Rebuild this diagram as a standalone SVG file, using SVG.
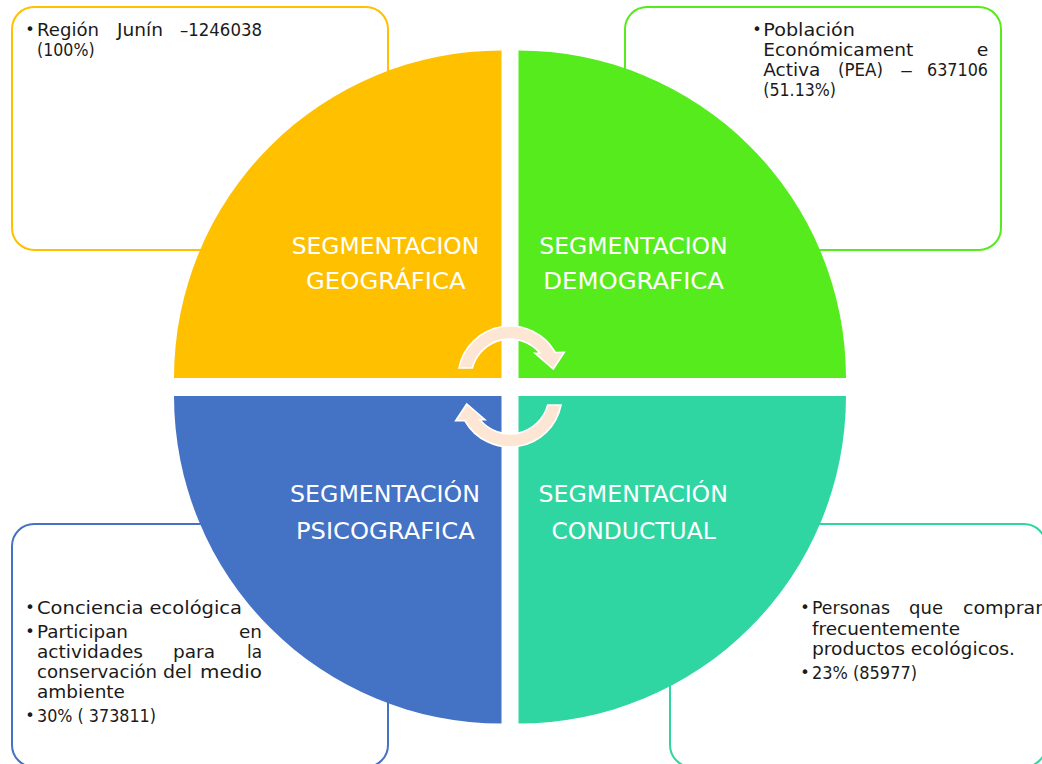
<svg xmlns="http://www.w3.org/2000/svg" width="1042" height="764" viewBox="0 0 1042 764">
<style>
.box{fill:#FFFFFF;stroke-width:2}
.lbl{font-family:"DejaVu Sans","Liberation Sans",sans-serif;font-size:23px;fill:#FFFFFF}
.txt{font-family:"DejaVu Sans","Liberation Sans",sans-serif;font-size:17px;fill:#1A1A1A}
.bul{font-family:"DejaVu Sans","Liberation Sans",sans-serif;font-size:16px;fill:#1A1A1A;text-anchor:middle}
.arr{fill:#FDE6D3;stroke:#FFFFFF;stroke-width:1.6;stroke-linejoin:miter}
</style>
<rect width="1042" height="764" fill="#FFFFFF"/>

<g id="box-geo">
<rect class="box" x="12" y="7" width="376" height="243" rx="22" stroke="#FFC000"/>
<text class="bul" x="30" y="35">•</text>
<text class="txt" x="37" y="36" textLength="62" lengthAdjust="spacingAndGlyphs">Región</text>
<text class="txt" x="117" y="36" textLength="46" lengthAdjust="spacingAndGlyphs">Junín</text>
<text class="txt" x="180" y="36" textLength="82" lengthAdjust="spacingAndGlyphs">–1246038</text>
<text class="txt" x="37" y="56" textLength="57.6" lengthAdjust="spacingAndGlyphs">(100%)</text>
</g>

<g id="box-demo">
<rect class="box" x="625" y="7" width="376" height="243" rx="22" stroke="#56EB1C"/>
<text class="bul" x="757" y="35">•</text>
<text class="txt" x="763.3" y="36" textLength="91.7" lengthAdjust="spacingAndGlyphs">Población</text>
<text class="txt" x="763.3" y="56" textLength="150" lengthAdjust="spacingAndGlyphs">Económicament</text>
<text class="txt" x="976.7" y="56" textLength="11.6" lengthAdjust="spacingAndGlyphs">e</text>
<text class="txt" x="763.3" y="76" textLength="57" lengthAdjust="spacingAndGlyphs">Activa</text>
<text class="txt" x="838" y="76" textLength="45" lengthAdjust="spacingAndGlyphs">(PEA)</text>
<text class="txt" x="900" y="76" textLength="13" lengthAdjust="spacingAndGlyphs">–</text>
<text class="txt" x="927" y="76" textLength="61" lengthAdjust="spacingAndGlyphs">637106</text>
<text class="txt" x="763.3" y="96" textLength="72.7" lengthAdjust="spacingAndGlyphs">(51.13%)</text>
</g>

<g id="box-psico">
<rect class="box" x="12" y="524" width="376" height="243" rx="22" stroke="#4472C4"/>
<text class="bul" x="30" y="613">•</text>
<text class="txt" x="37" y="614" textLength="205" lengthAdjust="spacingAndGlyphs">Conciencia ecológica</text>
<text class="bul" x="30" y="637">•</text>
<text class="txt" x="37" y="638" textLength="91" lengthAdjust="spacingAndGlyphs">Participan</text>
<text class="txt" x="239" y="638" textLength="23" lengthAdjust="spacingAndGlyphs">en</text>
<text class="txt" x="37" y="658" textLength="106" lengthAdjust="spacingAndGlyphs">actividades</text>
<text class="txt" x="173" y="658" textLength="42" lengthAdjust="spacingAndGlyphs">para</text>
<text class="txt" x="247" y="658" textLength="15" lengthAdjust="spacingAndGlyphs">la</text>
<text class="txt" x="37" y="678" textLength="120" lengthAdjust="spacingAndGlyphs">conservación</text>
<text class="txt" x="163" y="678" textLength="29" lengthAdjust="spacingAndGlyphs">del</text>
<text class="txt" x="200" y="678" textLength="62" lengthAdjust="spacingAndGlyphs">medio</text>
<text class="txt" x="37" y="698" textLength="88" lengthAdjust="spacingAndGlyphs">ambiente</text>
<text class="bul" x="30" y="721">•</text>
<text class="txt" x="37" y="722" textLength="119" lengthAdjust="spacingAndGlyphs">30% ( 373811)</text>
</g>

<g id="box-conduct">
<rect class="box" x="670" y="524" width="376" height="243" rx="22" stroke="#2FD6A2"/>
<text class="bul" x="805" y="613">•</text>
<text class="txt" x="812" y="614" textLength="78" lengthAdjust="spacingAndGlyphs">Personas</text>
<text class="txt" x="909" y="614" textLength="34" lengthAdjust="spacingAndGlyphs">que</text>
<text class="txt" x="963" y="614" textLength="80" lengthAdjust="spacingAndGlyphs">comprar</text>
<text class="txt" x="812" y="634.5" textLength="148" lengthAdjust="spacingAndGlyphs">frecuentemente</text>
<text class="txt" x="812" y="655" textLength="203" lengthAdjust="spacingAndGlyphs">productos ecológicos.</text>
<text class="bul" x="805" y="678">•</text>
<text class="txt" x="812" y="679" textLength="105" lengthAdjust="spacingAndGlyphs">23% (85977)</text>
</g>

<g id="q-geo">
<path d="M501.5 378 L174 378 A327.5 327.5 0 0 1 501.5 50.5 Z" fill="#FFC000"/>
<text class="lbl" x="291.7" y="253.8" textLength="187.6" lengthAdjust="spacingAndGlyphs">SEGMENTACION</text>
<text class="lbl" x="306" y="288.8" textLength="159.7" lengthAdjust="spacingAndGlyphs">GEOGRÁFICA</text>
</g>
<g id="q-demo">
<path d="M518.5 378 L518.5 50.5 A327.5 327.5 0 0 1 846 378 Z" fill="#56EB1C"/>
<text class="lbl" x="539.3" y="253.8" textLength="188.4" lengthAdjust="spacingAndGlyphs">SEGMENTACION</text>
<text class="lbl" x="543.3" y="288.8" textLength="180.7" lengthAdjust="spacingAndGlyphs">DEMOGRAFICA</text>
</g>
<g id="q-psico">
<path d="M501.5 396 L174 396 A327.5 327.5 0 0 0 501.5 723.5 Z" fill="#4472C4"/>
<text class="lbl" x="290" y="502" textLength="190" lengthAdjust="spacingAndGlyphs">SEGMENTACIÓN</text>
<text class="lbl" x="296" y="538.5" textLength="178.7" lengthAdjust="spacingAndGlyphs">PSICOGRAFICA</text>
</g>
<g id="q-conduct">
<path d="M518.5 396 L846 396 A327.5 327.5 0 0 1 518.5 723.5 Z" fill="#2FD6A2"/>
<text class="lbl" x="538.6" y="502" textLength="189.3" lengthAdjust="spacingAndGlyphs">SEGMENTACIÓN</text>
<text class="lbl" x="551.5" y="538.5" textLength="164.3" lengthAdjust="spacingAndGlyphs">CONDUCTUAL</text>
</g>

<g id="connectors">
<path class="arr" d="M459 368 A52 52 0 0 1 555.3 352.5 L564.3 352.3 L553.3 369 L535 353.3 L540.1 353.2 A39 39 0 0 0 472.3 368 Z"/>
<path class="arr" transform="rotate(180 510 386.5)" d="M459 368 A52 52 0 0 1 555.3 352.5 L564.3 352.3 L553.3 369 L535 353.3 L540.1 353.2 A39 39 0 0 0 472.3 368 Z"/>
</g>
</svg>
